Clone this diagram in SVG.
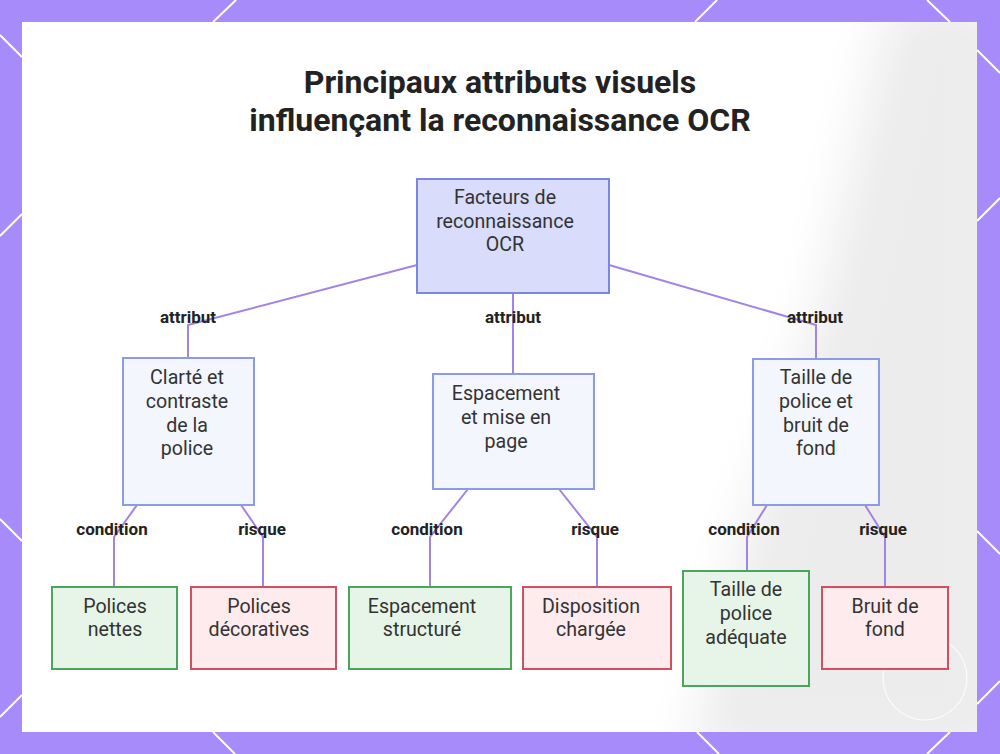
<svg xmlns="http://www.w3.org/2000/svg" width="1000" height="754" viewBox="0 0 1000 754">
<defs>
<style>
.title{font-family:Roboto,"Liberation Sans",sans-serif;font-weight:700;font-size:32px;fill:#222;text-anchor:middle}
.nt{font-family:Roboto,"Liberation Sans",sans-serif;font-size:19.6px;fill:#333;text-anchor:middle}
.lbl{font-family:Roboto,"Liberation Sans",sans-serif;font-weight:700;font-size:17px;fill:#222;text-anchor:middle}
.main{fill:#d9dcfb;stroke:#7b86e0;stroke-width:2}
.attr{fill:#f4f6fe;stroke:#8d9be6;stroke-width:2}
.good{fill:#e7f5e9;stroke:#4ba55a;stroke-width:2}
.bad{fill:#fdebee;stroke:#d1505f;stroke-width:2}
.edge{fill:none;stroke:#a283e8;stroke-width:2}
.deco{stroke:#fff;stroke-width:2}
</style>
<filter id="blur" x="-50%" y="-50%" width="200%" height="200%"><feGaussianBlur stdDeviation="25"/></filter>
<clipPath id="panel"><rect x="22" y="22" width="955" height="710"/></clipPath>
</defs>
<rect x="0" y="0" width="1000" height="754" fill="#a78bfa"/>
<g class="deco">
<line x1="0" y1="35" x2="22" y2="57"/>
<line x1="213" y1="22" x2="236" y2="0"/>
<line x1="695" y1="22" x2="717" y2="0"/>
<line x1="927" y1="0" x2="950" y2="22"/>
<line x1="977" y1="50" x2="1000" y2="73"/>
<line x1="0" y1="236" x2="22" y2="214"/>
<line x1="977" y1="221" x2="1000" y2="198"/>
<line x1="0" y1="519" x2="22" y2="541"/>
<line x1="977" y1="531" x2="1000" y2="554"/>
<line x1="0" y1="717" x2="22" y2="695"/>
<line x1="977" y1="704" x2="1000" y2="681"/>
<line x1="213" y1="732" x2="235" y2="754"/>
<line x1="697" y1="732" x2="719" y2="754"/>
<line x1="927" y1="754" x2="950" y2="732"/>
</g>
<rect x="22" y="22" width="955" height="710" fill="#ffffff"/>
<g clip-path="url(#panel)">
<path d="M890,0 L1010,0 L1010,760 L690,760 L730,580 L820,300 Z" fill="#ececec" filter="url(#blur)"/>
<circle cx="925" cy="678" r="42" fill="none" stroke="#ffffff" stroke-width="1.2" opacity="0.8"/>
</g>
<g id="title">
<text class="title" x="500" y="93">Principaux attributs visuels</text>
<text class="title" x="500" y="131">influençant la reconnaissance OCR</text>
</g>
<g id="connectors">
<polyline class="edge" points="417,265 188,325 188,358"/>
<polyline class="edge" points="513,293 513,374"/>
<polyline class="edge" points="609,265 816,325 816,359"/>
<polyline class="edge" points="137,505 114,537 114,587"/>
<polyline class="edge" points="241,505 263,537 263,587"/>
<polyline class="edge" points="468,489 430,537 430,587"/>
<polyline class="edge" points="559,489 597,537 597,587"/>
<polyline class="edge" points="767,505 747,537 747,571"/>
<polyline class="edge" points="865,505 885,537 885,587"/>
<text class="lbl" x="188" y="323">attribut</text>
<text class="lbl" x="513" y="323">attribut</text>
<text class="lbl" x="815" y="323">attribut</text>
<text class="lbl" x="112" y="535">condition</text>
<text class="lbl" x="262" y="535">risque</text>
<text class="lbl" x="427" y="535">condition</text>
<text class="lbl" x="595" y="535">risque</text>
<text class="lbl" x="744" y="535">condition</text>
<text class="lbl" x="883" y="535">risque</text>
</g>
<g id="root">
<rect class="main" x="417" y="179" width="192" height="114"/>
<text class="nt" x="505" y="204">Facteurs de</text>
<text class="nt" x="505" y="228">reconnaissance</text>
<text class="nt" x="505" y="251">OCR</text>
</g>
<g id="clarte">
<rect class="attr" x="123" y="358" width="131" height="147"/>
<text class="nt" x="187" y="384">Clarté et</text>
<text class="nt" x="187" y="408">contraste</text>
<text class="nt" x="187" y="432">de la</text>
<text class="nt" x="187" y="455">police</text>
</g>
<g id="espacement">
<rect class="attr" x="433" y="374" width="161" height="115"/>
<text class="nt" x="506" y="400">Espacement</text>
<text class="nt" x="506" y="424">et mise en</text>
<text class="nt" x="506" y="448">page</text>
</g>
<g id="taille">
<rect class="attr" x="753" y="359" width="126" height="146"/>
<text class="nt" x="816" y="384">Taille de</text>
<text class="nt" x="816" y="408">police et</text>
<text class="nt" x="816" y="432">bruit de</text>
<text class="nt" x="816" y="455">fond</text>
</g>
<g id="polices-nettes">
<rect class="good" x="52" y="587" width="125" height="82"/>
<text class="nt" x="115" y="613">Polices</text>
<text class="nt" x="115" y="636">nettes</text>
</g>
<g id="polices-decoratives">
<rect class="bad" x="191" y="587" width="145" height="82"/>
<text class="nt" x="259" y="613">Polices</text>
<text class="nt" x="259" y="636">décoratives</text>
</g>
<g id="espacement-structure">
<rect class="good" x="349" y="587" width="162" height="82"/>
<text class="nt" x="422" y="613">Espacement</text>
<text class="nt" x="422" y="636">structuré</text>
</g>
<g id="disposition-chargee">
<rect class="bad" x="523" y="587" width="148" height="82"/>
<text class="nt" x="591" y="613">Disposition</text>
<text class="nt" x="591" y="636">chargée</text>
</g>
<g id="taille-adequate">
<rect class="good" x="683" y="571" width="126" height="115"/>
<text class="nt" x="746" y="596">Taille de</text>
<text class="nt" x="746" y="620">police</text>
<text class="nt" x="746" y="644">adéquate</text>
</g>
<g id="bruit-de-fond">
<rect class="bad" x="822" y="587" width="126" height="82"/>
<text class="nt" x="885" y="613">Bruit de</text>
<text class="nt" x="885" y="636">fond</text>
</g>
</svg>
